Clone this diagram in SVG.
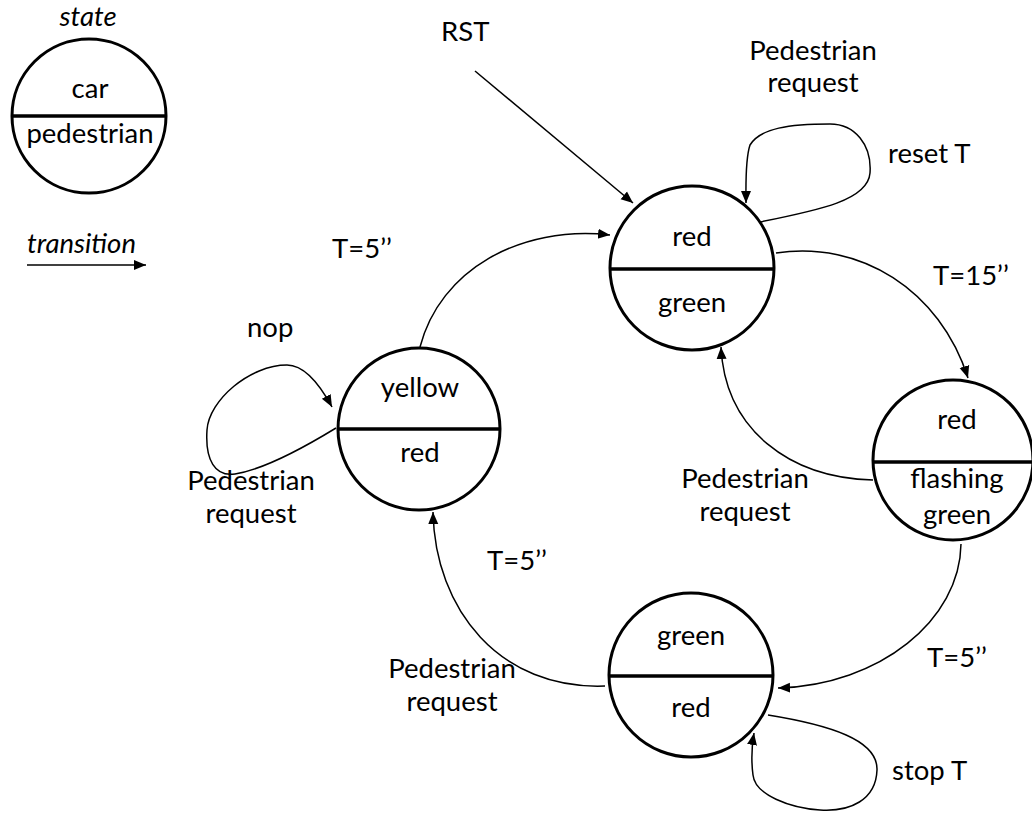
<svg xmlns="http://www.w3.org/2000/svg" width="1032" height="813" viewBox="0 0 1032 813">
<style>
text{font-family:Lato,"Liberation Sans",sans-serif;font-size:27.5px;fill:#000}
.c{text-anchor:middle}
.i{font-style:italic}
.st{fill:#fff;stroke:#000;stroke-width:3}
.dv{stroke:#000;stroke-width:3.5}
.e{fill:none;stroke:#000;stroke-width:1.5}
</style>
<defs>
<marker id="a" markerUnits="userSpaceOnUse" markerWidth="14" markerHeight="12" refX="12" refY="5" orient="auto" viewBox="0 0 14 10">
<path d="M0,0 L12,5 L0,10 Z" fill="#000"/>
</marker>
</defs>
<g id="legend">
<text class="c i" x="88" y="26">state</text>
<circle class="st" cx="89" cy="116" r="77"/>
<line class="dv" x1="12" y1="116" x2="166" y2="116"/>
<text class="c" x="90" y="98">car</text>
<text class="c" x="90" y="143">pedestrian</text>
<text class="i" x="27" y="253">transition</text>
<line class="e" x1="27" y1="265" x2="146" y2="265" marker-end="url(#a)"/>
</g>
<g id="connectors">
<path class="e" d="M475,71 L633,203" marker-end="url(#a)"/>
<path class="e" d="M760,222 C820,210 868,200 870,173 C872,145 855,124 830,124 C790,124 760,128 750,145 C745,160 746,185 746,203" marker-end="url(#a)"/>
<path class="e" d="M776,253 C860,240 940,290 968,378" marker-end="url(#a)"/>
<path class="e" d="M873,480 C790,478 725,430 721,347" marker-end="url(#a)"/>
<path class="e" d="M961,544 C960,620 880,685 778,688" marker-end="url(#a)"/>
<path class="e" d="M768,715 C830,725 878,740 877,770 C876,800 850,812 820,810 C790,808 755,795 753,775 C751,760 752,745 754,733" marker-end="url(#a)"/>
<path class="e" d="M605,686 C500,690 435,610 433,512" marker-end="url(#a)"/>
<path class="e" d="M420,347 C440,270 520,225 610,235" marker-end="url(#a)"/>
<path class="e" d="M336,428 C300,450 260,470 235,474 C215,477 205,460 207,430 C209,400 250,365 287,365 C305,365 320,385 332,407" marker-end="url(#a)"/>
<text x="441" y="41">RST</text>
<text class="c" x="813" y="60">Pedestrian</text>
<text class="c" x="813" y="92">request</text>
<text x="888" y="163">reset T</text>
<text x="332" y="258">T=5’’</text>
<text x="933" y="285">T=15’’</text>
<text x="247" y="337">nop</text>
<text class="c" x="251" y="490">Pedestrian</text>
<text class="c" x="251" y="523">request</text>
<text class="c" x="745" y="488">Pedestrian</text>
<text class="c" x="745" y="521">request</text>
<text x="487" y="570">T=5’’</text>
<text class="c" x="452" y="678">Pedestrian</text>
<text class="c" x="452" y="711">request</text>
<text x="927" y="667">T=5’’</text>
<text x="892" y="780">stop T</text>
</g>
<g id="s_red_green">
<circle class="st" cx="692" cy="268" r="82"/>
<line class="dv" x1="610" y1="269" x2="774" y2="269"/>
<text class="c" x="692" y="246">red</text>
<text class="c" x="692" y="312">green</text>
</g>
<g id="s_red_flashing">
<circle class="st" cx="953" cy="460" r="80"/>
<line class="dv" x1="873" y1="462" x2="1033" y2="462"/>
<text class="c" x="957" y="429">red</text>
<text class="c" x="957" y="488">flashing</text>
<text class="c" x="957" y="524">green</text>
</g>
<g id="s_green_red">
<circle class="st" cx="691" cy="675" r="82"/>
<line class="dv" x1="609" y1="676" x2="773" y2="676"/>
<text class="c" x="691" y="645">green</text>
<text class="c" x="691" y="717">red</text>
</g>
<g id="s_yellow_red">
<circle class="st" cx="419" cy="429" r="81"/>
<line class="dv" x1="338" y1="429" x2="500" y2="429"/>
<text class="c" x="420" y="397">yellow</text>
<text class="c" x="420" y="462">red</text>
</g>
</svg>
